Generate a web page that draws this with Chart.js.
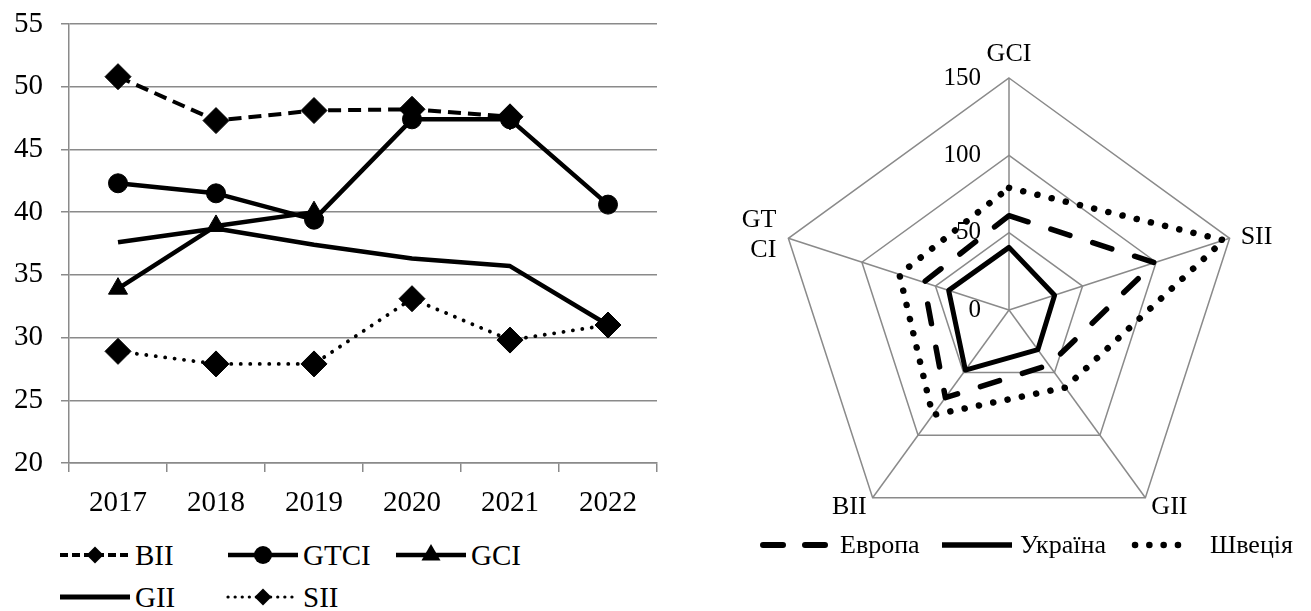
<!DOCTYPE html>
<html>
<head>
<meta charset="utf-8">
<script src="https://cdn.jsdelivr.net/npm/chart.js@4.4.1/dist/chart.umd.min.js"></script>
<style>
  html, body { margin: 0; padding: 0; background: #fff; }
  body { width: 1311px; height: 611px; position: relative; overflow: hidden;
         font-family: "Liberation Serif", "Times New Roman", serif; color: #000; }
  #line-chart { position: absolute; left: 0; top: 0; }
  #radar-chart { position: absolute; left: 720px; top: 0; }
  .lg-item { position: absolute; height: 40px; display: flex; align-items: center; white-space: nowrap;
             font-family: "Liberation Serif", "Times New Roman", serif; }
  .lg-item span { font-family: "Liberation Serif", "Times New Roman", serif; }
  .lg-item svg { overflow: visible; flex: none; }
</style>
</head>
<body>
<canvas id="line-chart" width="660" height="530"></canvas>
<canvas id="radar-chart" width="591" height="611"></canvas>
<div id="line-legend"></div>
<div id="radar-legend"></div>

<script>
// ---- line chart data ----
const years = ['2017', '2018', '2019', '2020', '2021', '2022'];
const bii  = [50.8, 47.3, 48.1, 48.2, 47.6, null];
const gtci = [42.3, 41.5, 39.4, 47.4, 47.4, 40.6];
const gci  = [33.9, 38.9, 40.0, null, null, null];
const gii  = [37.6, 38.7, 37.4, 36.3, 35.7, 31.0];
const sii  = [28.9, 27.9, 27.9, 33.1, 29.8, 31.0];
const lineTicks = [20, 25, 30, 35, 40, 45, 50, 55];

// ---- radar chart data ----
const radarAxes = ['GCI', 'SII', 'GII', 'BII', ['GT', 'CI']];
const europe  = [61, 99, 44, 70, 58];
const ukraine = [40.5, 31, 31.7, 48, 41];
const sweden  = [79, 146, 62, 84, 74.5];
const radarTicks = [0, 50, 100, 150];

const SERIF = '"Liberation Serif", "Times New Roman", serif';
const GRID = '#8a8a8a';

// ---------- line chart ----------
const lineSets = [
  { label: 'BII', data: bii, order: 2, borderWidth: 4, borderDash: [13, 7],
    pointStyle: 'rectRot', pointRadius: 13, legend: { dash: '8,4', width: 4, marker: 'diamond', r: 8.5 } },
  { label: 'GTCI', data: gtci, order: 0, borderWidth: 4.5,
    pointStyle: 'circle', pointRadius: 9.5, legend: { width: 4.5, marker: 'circle', r: 9 } },
  { label: 'GCI', data: gci, order: 1, borderWidth: 4.5,
    pointStyle: 'triangle', pointRadius: 11, legend: { width: 4.5, marker: 'triangle', r: 11 } },
  { label: 'GII', data: gii, order: 3, borderWidth: 4.5,
    pointStyle: false, pointRadius: 0, legend: { width: 5 } },
  { label: 'SII', data: sii, order: 4, borderWidth: 3.8, borderDash: [0.1, 9.4], borderCapStyle: 'round',
    pointStyle: 'rectRot', pointRadius: 13, legend: { dash: '0.1,7', width: 3.2, cap: 'round', marker: 'diamond', r: 8.5 } },
];

new Chart(document.getElementById('line-chart'), {
  type: 'line',
  data: {
    labels: years,
    datasets: lineSets.map(s => ({
      label: s.label, data: s.data, order: s.order,
      borderColor: '#000', backgroundColor: '#000',
      borderWidth: s.borderWidth, borderDash: s.borderDash || [],
      borderCapStyle: s.borderCapStyle || 'butt', borderJoinStyle: 'round',
      pointStyle: s.pointStyle, pointRadius: s.pointRadius, pointBorderWidth: 1,
      pointBackgroundColor: '#000', pointBorderColor: '#000',
      tension: 0, fill: false, spanGaps: false,
    })),
  },
  options: {
    responsive: false,
    animation: false,
    layout: { autoPadding: false, padding: { top: 24, right: 3, left: 0, bottom: 0 } },
    plugins: { legend: { display: false }, tooltip: { enabled: false } },
    scales: {
      x: {
        offset: true,
        grid: { offset: true, drawOnChartArea: false, drawTicks: true, tickLength: 9, color: GRID, lineWidth: 1.5 },
        border: { color: GRID, width: 1.5 },
        ticks: { color: '#000', font: { family: SERIF, size: 29 }, padding: 14, maxRotation: 0 },
        afterFit: s => { s.height = 67; },
      },
      y: {
        min: lineTicks[0],
        max: lineTicks[lineTicks.length - 1],
        ticks: { stepSize: lineTicks[1] - lineTicks[0], color: '#000', font: { family: SERIF, size: 29 }, padding: 18 },
        grid: { color: GRID, lineWidth: 1.5, tickLength: 8 },
        border: { color: GRID, width: 1.5 },
        afterFit: s => { s.width = 69; s.paddingTop = 0; s.paddingBottom = 0; },
      },
    },
  },
});

// ---------- radar chart ----------
const radarSets = [
  { label: 'Европа', data: europe, borderWidth: 5.5, borderDash: [20, 24], cap: 'round',
    legend: { x: 760, w: 70, text: 840, dash: '20,22', width: 6, cap: 'round', pad: 3 } },
  { label: 'Україна', data: ukraine, borderWidth: 5, borderDash: [], cap: 'butt',
    legend: { x: 942, w: 70, text: 1020, width: 5.5, cap: 'butt', pad: 0 } },
  { label: 'Швеція', data: sweden, borderWidth: 6.5, borderDash: [0.1, 14.5], cap: 'round',
    legend: { x: 1132, w: 62, text: 1210, dash: '0.1,14.2', width: 6.5, cap: 'round', pad: 3 } },
];

// where each axis name sits around its outer vertex
const AXIS_LABEL_PLACE = [
  { align: 'center', dx: 0, dy: -24 },
  { align: 'left', dx: 11, dy: -1 },
  { align: 'left', dx: 6, dy: 9 },
  { align: 'right', dx: -6, dy: 9 },
  { align: 'right', dx: -12, dy: -3 },
];

const radarText = {
  id: 'radarText',
  afterDraw(chart) {
    const s = chart.scales.r;
    const ctx = chart.ctx;
    ctx.save();
    ctx.fillStyle = '#000';
    ctx.textBaseline = 'middle';

    ctx.font = `26px ${SERIF}`;
    radarAxes.forEach((label, i) => {
      const p = s.getPointPosition(i, s.drawingArea);
      const place = AXIS_LABEL_PLACE[i];
      const lines = [].concat(label);
      ctx.textAlign = place.align;
      lines.forEach((ln, k) => {
        ctx.fillText(ln, p.x + place.dx, p.y + place.dy + (k - (lines.length - 1) / 2) * 30);
      });
    });

    ctx.font = `25px ${SERIF}`;
    ctx.textAlign = 'right';
    s.ticks.forEach(t => {
      const y = s.yCenter - s.getDistanceFromCenterForValue(t.value);
      ctx.fillText(String(t.value), s.xCenter - 28, y);
    });
    ctx.restore();
  },
};

new Chart(document.getElementById('radar-chart'), {
  type: 'radar',
  data: {
    labels: radarAxes,
    datasets: radarSets.map(s => ({
      label: s.label, data: s.data,
      borderColor: '#000', backgroundColor: 'transparent',
      borderWidth: s.borderWidth, borderDash: s.borderDash,
      borderCapStyle: s.cap, borderJoinStyle: 'round',
      pointRadius: 0, fill: false, tension: 0,
    })),
  },
  options: {
    responsive: false,
    animation: false,
    layout: { padding: { left: 57, right: 70, top: 78, bottom: 69 } },
    plugins: { legend: { display: false }, tooltip: { enabled: false } },
    scales: {
      r: {
        min: radarTicks[0],
        max: radarTicks[radarTicks.length - 1],
        ticks: { stepSize: radarTicks[1] - radarTicks[0], display: false },
        pointLabels: { display: false },
        grid: { color: GRID, lineWidth: 1.5 },
        angleLines: { color: GRID, lineWidth: 1.5 },
      },
    },
  },
  plugins: [radarText],
});

// ---------- html legends ----------
function markerSvg(m, cx, cy) {
  if (!m.marker) return '';
  const r = m.r;
  if (m.marker === 'circle') return `<circle cx="${cx}" cy="${cy}" r="${r}" fill="#000"/>`;
  if (m.marker === 'diamond')
    return `<polygon points="${cx},${cy - r} ${cx + r},${cy} ${cx},${cy + r} ${cx - r},${cy}" fill="#000"/>`;
  const h = r * 0.866;
  return `<polygon points="${cx},${cy - r} ${cx + h},${cy + r / 2} ${cx - h},${cy + r / 2}" fill="#000"/>`;
}

function sampleSvg(m, w) {
  const pad = m.pad || 0;
  return `<svg width="${w}" height="30" viewBox="0 0 ${w} 30">
    <line x1="${pad}" y1="15" x2="${w - pad}" y2="15" stroke="#000" stroke-width="${m.width}"
      stroke-linecap="${m.cap || 'butt'}" ${m.dash ? `stroke-dasharray="${m.dash}"` : ''}/>
    ${markerSvg(m, w / 2, 15)}
  </svg>`;
}

const lineLegendCols = [60, 228, 396];
const lineLegendRows = [555, 597];
document.getElementById('line-legend').innerHTML = lineSets.map((s, i) => {
  const x = lineLegendCols[i % 3];
  const y = lineLegendRows[Math.floor(i / 3)];
  return `<div class="lg-item" style="left:${x}px;top:${y - 20}px;font-size:29px">
    ${sampleSvg(s.legend, 70)}<span style="margin-left:5px">${s.label}</span></div>`;
}).join('');

document.getElementById('radar-legend').innerHTML = radarSets.map(s => `
  <div class="lg-item" style="left:${s.legend.x}px;top:${545 - 20}px;font-size:26px">
    ${sampleSvg(s.legend, s.legend.w)}<span style="margin-left:${s.legend.text - s.legend.x - s.legend.w}px">${s.label}</span>
  </div>`).join('');
</script>
</body>
</html>
